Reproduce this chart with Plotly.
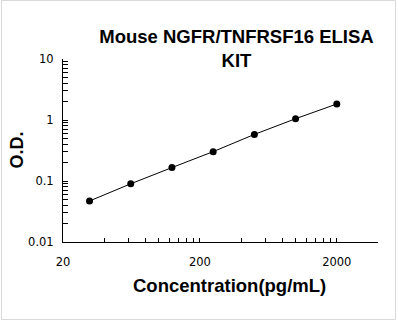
import plotly.graph_objects as go

# Data
concentration = [31.25, 62.5, 125, 250, 500, 1000, 2000]
od_values = [0.047, 0.090, 0.166, 0.303, 0.58, 1.05, 1.83]

x_tick_vals = [20, 200, 2000]
x_tick_text = ["20", "200", "2000"]
y_tick_vals = [0.01, 0.1, 1, 10]
y_tick_text = ["0.01", "0.1", "1", "10"]

title_text = "Mouse NGFR/TNFRSF16 ELISA<br>KIT"
x_title = "Concentration(pg/mL)"
y_title = "O.D."

# minor tick positions (multiples of 2*10^k on x, 1..9*10^k on y)
x_minor = [m * d for d in (20, 200, 2000) for m in range(1, 11)]
y_minor = [m * d for d in (0.01, 0.1, 1) for m in range(1, 10)] + [10]

W, H = 398, 323
L, R, T, B = 63, 20, 59, 81
pw, ph = W - L - R, H - T - B

fig = go.Figure()
fig.add_trace(go.Scatter(
    x=concentration, y=od_values, mode="lines+markers",
    line=dict(color="black", width=1),
    marker=dict(color="black", size=7),
    showlegend=False,
))

tickfont = dict(family="DejaVu Sans", size=11.5, color="black")
fig.update_xaxes(
    type="log", range=[1.30103, 3.60206],
    tickmode="array", tickvals=x_tick_vals, ticktext=x_tick_text,
    ticks="inside", ticklen=4, tickwidth=1, tickcolor="black",
    minor=dict(tickmode="array", tickvals=x_minor, ticks="inside", ticklen=4, tickwidth=1, tickcolor="black", showgrid=False),
    showline=True, linecolor="black", linewidth=1, mirror=False,
    showgrid=False, zeroline=False, tickfont=tickfont, ticklabelstandoff=9,
)
fig.update_yaxes(
    type="log", range=[-2, 1],
    tickmode="array", tickvals=y_tick_vals, ticktext=y_tick_text,
    ticks="inside", ticklen=5, tickwidth=1, tickcolor="black",
    minor=dict(tickmode="array", tickvals=y_minor, ticks="inside", ticklen=5, tickwidth=1, tickcolor="black", showgrid=False),
    showline=True, linecolor="black", linewidth=1, mirror=False,
    showgrid=False, zeroline=False, tickfont=tickfont, ticklabelstandoff=6,
)

def px_x(p):
    return (p - L) / pw

def px_y(p):
    return (H - B - p) / ph

fig.update_layout(
    width=W, height=H,
    margin=dict(l=L, r=R, t=T, b=B, pad=0),
    paper_bgcolor="white", plot_bgcolor="white",
    title=dict(text=title_text, x=236.5 / W, xanchor="center",
               y=1 - 43 / H, yanchor="middle",
               font=dict(family="Liberation Sans", size=18.5, color="black", weight="bold")),
    annotations=[
        dict(text="<b>" + x_title + "</b>", xref="paper", yref="paper",
             x=px_x(229), y=px_y(285), xanchor="center", yanchor="middle",
             showarrow=False, font=dict(family="Liberation Sans", size=18.5, color="black")),
        dict(text="<b>" + y_title + "</b>", xref="paper", yref="paper",
             x=px_x(16.5), y=px_y(150), xanchor="center", yanchor="middle", textangle=-90,
             showarrow=False, font=dict(family="Liberation Sans", size=18, color="black")),
    ],
    shapes=[dict(type="rect", xref="paper", yref="paper",
                 x0=px_x(1.5), x1=px_x(395.5), y0=px_y(319.5), y1=px_y(0.5),
                 line=dict(color="#d9d9d9", width=1), fillcolor="rgba(0,0,0,0)", layer="below")],
)

fig.write_html("out.html")
